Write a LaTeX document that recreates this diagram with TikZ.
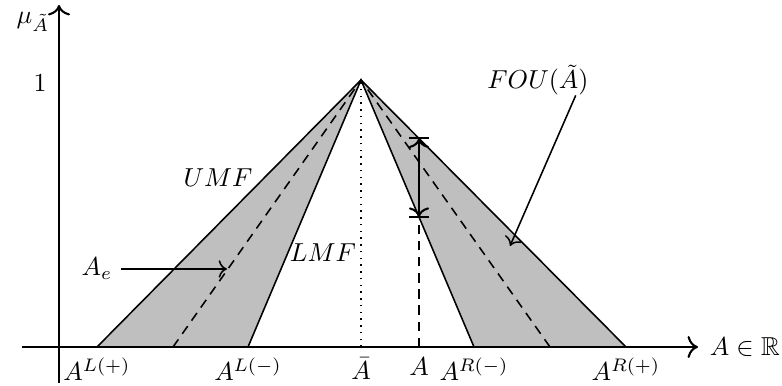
\documentclass[tikz,border=0pt]{standalone}
\usepackage{amsmath,amssymb}
\usepackage{tikz}
\usetikzlibrary{arrows.meta,positioning,calc}
\tikzset{
  axis/.style  ={-{To[scale=1.2]}, line width=0.8pt},
  fou/.style   ={fill=gray!50, draw=none},
  mf/.style    ={line width=0.6pt},
  emf/.style   ={line width=0.6pt, dash pattern=on 3.6pt off 2.6pt},
  ptr/.style   ={-{To[scale=1.1]}, line width=0.6pt},
  lbl/.style   ={inner sep=2pt},
}
\begin{document}
\begin{tikzpicture}[x=0.385pt,y=-0.385pt]
  \useasboundingbox (0,0) rectangle (782,386);

  % points of the membership functions
  \coordinate (apex) at (361,80);
  \coordinate (lp) at (97,347);
  \coordinate (le) at (173,347);
  \coordinate (lm) at (248,347);
  \coordinate (ab) at (361,347);
  \coordinate (aa) at (419,347);
  \coordinate (rm) at (474,347);
  \coordinate (re) at (550,347);
  \coordinate (rp) at (626,347);
  \coordinate (up) at (419,138.4);
  \coordinate (lo) at (419,217);

  % footprint of uncertainty
  \fill[fou] (lp) -- (apex) -- (lm) -- cycle;
  \fill[fou] (rm) -- (apex) -- (rp) -- cycle;

  % axes
  \coordinate (xs) at (22,347);
  \coordinate (xe) at (698,347);
  \coordinate (ys) at (59,383);
  \coordinate (ye) at (59,5);
  \draw[axis] (xs) -- (xe);
  \draw[axis] (ys) -- (ye);
  \node[right=1pt of xe] (xlab) {$A\in\mathbb{R}$};
  \node (ylab) at (33,22) {$\mu_{\tilde{A}}$};
  \node (one) at (40,83) {$1$};

  % upper, lower and embedded MFs
  \draw[mf] (lp) -- (apex) -- (rp);
  \draw[mf] (lm) -- (apex) -- (rm);
  \draw[emf] (le) -- (apex) -- (re);
  \draw[line width=0.6pt, dotted] (ab) -- (apex);
  \draw[emf] (aa) -- (lo);

  % interval at A
  \draw[{To[scale=1.1]}-{To[scale=1.1]}, line width=0.8pt] (up) -- (lo);
  \draw[line width=0.8pt] ($(up)+(-10,0)$) -- ($(up)+(10,0)$);
  \draw[line width=0.8pt] ($(lo)+(-10,0)$) -- ($(lo)+(10,0)$);

  % labels on the x axis
  \node[lbl,below=2pt of lp] (lpl) {$A^{L(+)}$};
  \node[lbl,below=2pt of lm] (lml) {$A^{L(-)}$};
  \node[lbl,below=2pt of ab] (abl) {$\bar{A}$};
  \node[lbl,below=2pt of aa] (aal) {$A$};
  \node[lbl,below=2pt of rm] (rml) {$A^{R(-)}$};
  \node[lbl,below=2pt of rp] (rpl) {$A^{R(+)}$};

  % names
  \node (umf) at (218,178) {$UMF$};
  \node (lmf) at (323,253) {$LMF$};
  \node (foul) at (538,80) {$FOU(\tilde{A})$};
  \node (ae) at (97,269) {$A_e$};
  \coordinate (aet) at (227,269);
  \coordinate (fout) at (510,246);
  \draw[ptr] (ae.east) -- (aet);
  \draw[ptr] ([shift={(-22,-9)}]foul.south east) -- (fout);
\end{tikzpicture}
\end{document}
